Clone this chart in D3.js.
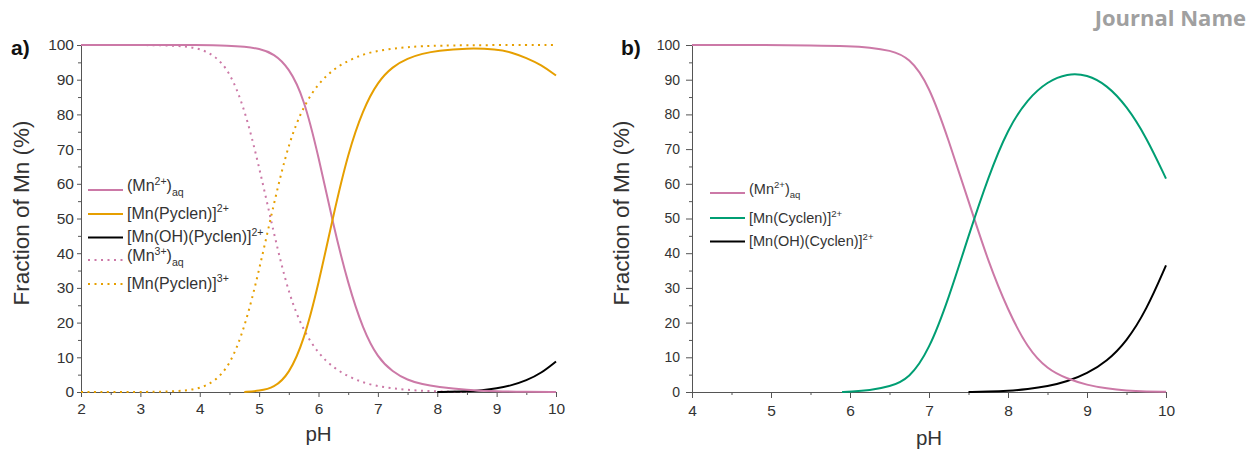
<!DOCTYPE html>
<html><head><meta charset="utf-8">
<script src="https://cdn.jsdelivr.net/npm/d3@7"></script>
<style>
body{margin:0;background:#fff}
svg{display:block}
text{font-family:"Liberation Sans",Arial,sans-serif;fill:#333}
</style>
</head><body>
<svg id="c" width="1251" height="450"></svg>
<script>
// ---------- data: panel a ----------
const aMn2pH   = [2,3,4,4.5,4.75,5,5.25,5.5,5.75,6,6.25,6.5,6.75,7,7.25,7.5,7.75,8,8.5,9,9.5,10];
const aMn2     = [100,100,100,99.8,99.5,99,97.5,93.5,85,68,48,31,18,9.8,5.8,3.4,2.2,1.5,0.6,0.2,0.1,0];
const aPyc2pH  = [4.75,5,5.25,5.5,5.75,6,6.25,6.5,6.75,7,7.25,7.5,7.75,8,8.5,9,9.25,9.5,9.75,10];
const aPyc2    = [0,0.3,1.2,5,14.5,31,51,69,81.5,89.5,93.8,96.2,97.5,98.4,99.1,98.8,97.9,96.3,94.3,91.2];
const aOHpH    = [8,8.5,8.75,9,9.25,9.5,9.75,10];
const aOH      = [0,0.2,0.5,1.0,1.9,3.3,5.4,8.8];
const aMn3pH   = [2,3,3.5,3.75,4,4.25,4.5,4.75,5,5.25,5.5,5.75,6,6.25,6.5,6.75,7,7.5,8,8.5];
const aMn3     = [100,100,99.9,99.6,99,97,92.5,82,65,45.5,28,17.5,11,7,4.5,2.7,1.6,0.5,0.15,0];
const aPyc3pH  = [2,3,3.5,3.75,4,4.25,4.5,4.75,5,5.25,5.5,5.75,6,6.25,6.5,6.75,7,7.5,8,9,10];
const aPyc3    = [0,0,0.1,0.4,1,3,7.5,18,35,54.5,72,82.5,89,93,95.5,97.3,98.4,99.5,99.85,100,100];
// ---------- data: panel b ----------
const bMn2pH   = [4,5,5.5,6,6.25,6.5,6.75,7,7.25,7.5,7.75,8,8.25,8.5,8.75,9,9.25,9.5,9.75,10];
const bMn2     = [100,100,99.9,99.7,99.3,98.5,96.5,88.5,72.5,55,37.5,23.5,12.5,6.5,3.8,2.0,1.0,0.4,0.15,0.05];
const bCyc2pH  = [5.9,6,6.25,6.5,6.75,7,7.25,7.5,7.75,8,8.25,8.5,8.75,9,9.25,9.5,9.75,10];
const bCyc2    = [0,0.1,0.5,1.5,3.8,12,27,45,62,76,84.5,89.5,91.8,91.5,88.5,82.5,73.5,61.5];
const bOHpH    = [7.5,7.75,8,8.25,8.5,8.75,9,9.25,9.5,9.75,10];
const bOH      = [0,0.1,0.3,0.8,1.6,3.0,5.3,8.8,14.5,23.5,36.5];

const xTicksA = [2,3,4,5,6,7,8,9,10];
const xTicksB = [4,5,6,7,8,9,10];
const yTicks  = [0,10,20,30,40,50,60,70,80,90,100];

const PINK="#cc79a7", ORANGE="#e69f00", GREEN="#009e73", BLACK="#000";

const svg = d3.select("#c");

svg.append("text").attr("x",1246).attr("y",26).attr("text-anchor","end")
  .style("font-family","'Open Sans',sans-serif").style("font-weight","bold")
  .style("font-size","22px").style("fill","#a0a0a0").text("Journal Name");

function zip(xs, ys){ return xs.map((x,i)=>[x,ys[i]]); }

function panel(o){
  const x = d3.scaleLinear().domain(o.xd).range(o.xr);
  const y = d3.scaleLinear().domain([0,100]).range([392,45]);
  const g = svg.append("g");
  const line = d3.line().x(d=>x(d[0])).y(d=>y(d[1])).curve(d3.curveBasis);

  // minor ticks
  const xMinor = d3.range(o.xd[0]+0.5, o.xd[1], 1);
  const yMinor = d3.range(5, 100, 10);
  g.append("g").attr("transform","translate(0,392)")
    .call(d3.axisBottom(x).tickValues(xMinor).tickSize(3).tickFormat("").tickSizeOuter(0))
    .call(s=>{s.select(".domain").remove(); s.selectAll("line").attr("stroke","#555");});
  g.append("g").attr("transform",`translate(${o.xr[0]},0)`)
    .call(d3.axisLeft(y).tickValues(yMinor).tickSize(3).tickFormat("").tickSizeOuter(0))
    .call(s=>{s.select(".domain").remove(); s.selectAll("line").attr("stroke","#555");});

  // major axes
  const xa = g.append("g").attr("transform","translate(0,392)")
    .call(d3.axisBottom(x).tickValues(o.xt).tickFormat(d3.format("d"))
      .tickSize(o.xts).tickPadding(o.xtp).tickSizeOuter(0));
  xa.select(".domain").attr("stroke","#555");
  xa.selectAll("line").attr("stroke","#555");
  xa.selectAll("text").style("font-size",o.xfs+"px").style("fill","#333")
    .style("font-family","'Liberation Sans',Arial,sans-serif");
  const ya = g.append("g").attr("transform",`translate(${o.xr[0]},0)`)
    .call(d3.axisLeft(y).tickValues(yTicks).tickFormat(d3.format("d"))
      .tickSize(o.yts).tickPadding(o.ytp).tickSizeOuter(0));
  ya.select(".domain").attr("stroke","#555");
  ya.selectAll("line").attr("stroke","#555");
  ya.selectAll("text").style("font-size",o.yfs+"px").style("fill","#333")
    .style("font-family","'Liberation Sans',Arial,sans-serif");

  // series
  o.series.forEach(s=>{
    g.append("path").datum(zip(s.x,s.y)).attr("d",line)
      .attr("fill","none").attr("stroke",s.c).attr("stroke-width",2)
      .attr("stroke-dasharray",s.dot?"2,4.5":null);
  });

  // labels
  g.append("text").attr("transform",`translate(${o.ylx},213) rotate(-90)`)
    .attr("text-anchor","middle").style("font-size","22.5px").text("Fraction of Mn (%)");
  g.append("text").attr("x",(o.xr[0]+o.xr[1])/2).attr("y",o.pHy)
    .attr("text-anchor","middle").style("font-size","20.5px").text("pH");
  g.append("text").attr("x",o.tagx).attr("y",55).style("font-size","21px")
    .style("font-weight","bold").style("fill","#111").text(o.tag);

  // legend
  o.legend.forEach((l,i)=>{
    const ly = o.ly[i];
    g.append("line").attr("x1",o.lx0).attr("x2",o.lx1).attr("y1",ly).attr("y2",ly)
      .attr("stroke",l.c).attr("stroke-width",2).attr("stroke-dasharray",l.dot?"2,4.5":null);
    const fs = o.lfs, sf = o.lfs*0.66;
    const t = g.append("text").attr("x",o.lx1+4).attr("y",ly+(l.sub?1:4.5)).style("font-size",fs+"px");
    t.append("tspan").text(l.main);
    t.append("tspan").attr("dy",-fs*0.38).style("font-size",sf+"px").text(l.sup);
    if(l.close){
      t.append("tspan").attr("dy",fs*0.38).text(l.close);
    }
    if(l.sub){
      t.append("tspan").attr("dy",fs*0.3).style("font-size",sf+"px").text(l.sub);
    }
  });
}

panel({
  xd:[2,10], xr:[81,556], xt:xTicksA, xts:5, xtp:6, xfs:15.5, yts:4, ytp:3, yfs:15.5,
  ylx:29, pHy:441, tag:"a)", tagx:11,
  lx0:88, lx1:123, lfs:16, ly:[190,214,237.5,260,284],
  series:[
    {x:aMn3pH, y:aMn3, c:PINK, dot:true},
    {x:aPyc3pH, y:aPyc3, c:ORANGE, dot:true},
    {x:aOHpH, y:aOH, c:BLACK},
    {x:aMn2pH, y:aMn2, c:PINK},
    {x:aPyc2pH, y:aPyc2, c:ORANGE}
  ],
  legend:[
    {c:PINK, main:"(Mn", sup:"2+", close:")", sub:"aq"},
    {c:ORANGE, main:"[Mn(Pyclen)]", sup:"2+"},
    {c:BLACK, main:"[Mn(OH)(Pyclen)]", sup:"2+"},
    {c:PINK, dot:true, main:"(Mn", sup:"3+", close:")", sub:"aq"},
    {c:ORANGE, dot:true, main:"[Mn(Pyclen)]", sup:"3+"}
  ]
});

panel({
  xd:[4,10], xr:[692,1166], xt:xTicksB, xts:6, xtp:7, xfs:15.5, yts:6, ytp:6, yfs:14,
  ylx:629, pHy:445, tag:"b)", tagx:621,
  lx0:710, lx1:745, lfs:14.5, ly:[193,218,241.5],
  series:[
    {x:bOHpH, y:bOH, c:BLACK},
    {x:bMn2pH, y:bMn2, c:PINK},
    {x:bCyc2pH, y:bCyc2, c:GREEN}
  ],
  legend:[
    {c:PINK, main:"(Mn", sup:"2+", close:")", sub:"aq"},
    {c:GREEN, main:"[Mn(Cyclen)]", sup:"2+"},
    {c:BLACK, main:"[Mn(OH)(Cyclen)]", sup:"2+"}
  ]
});
</script>
</body></html>
